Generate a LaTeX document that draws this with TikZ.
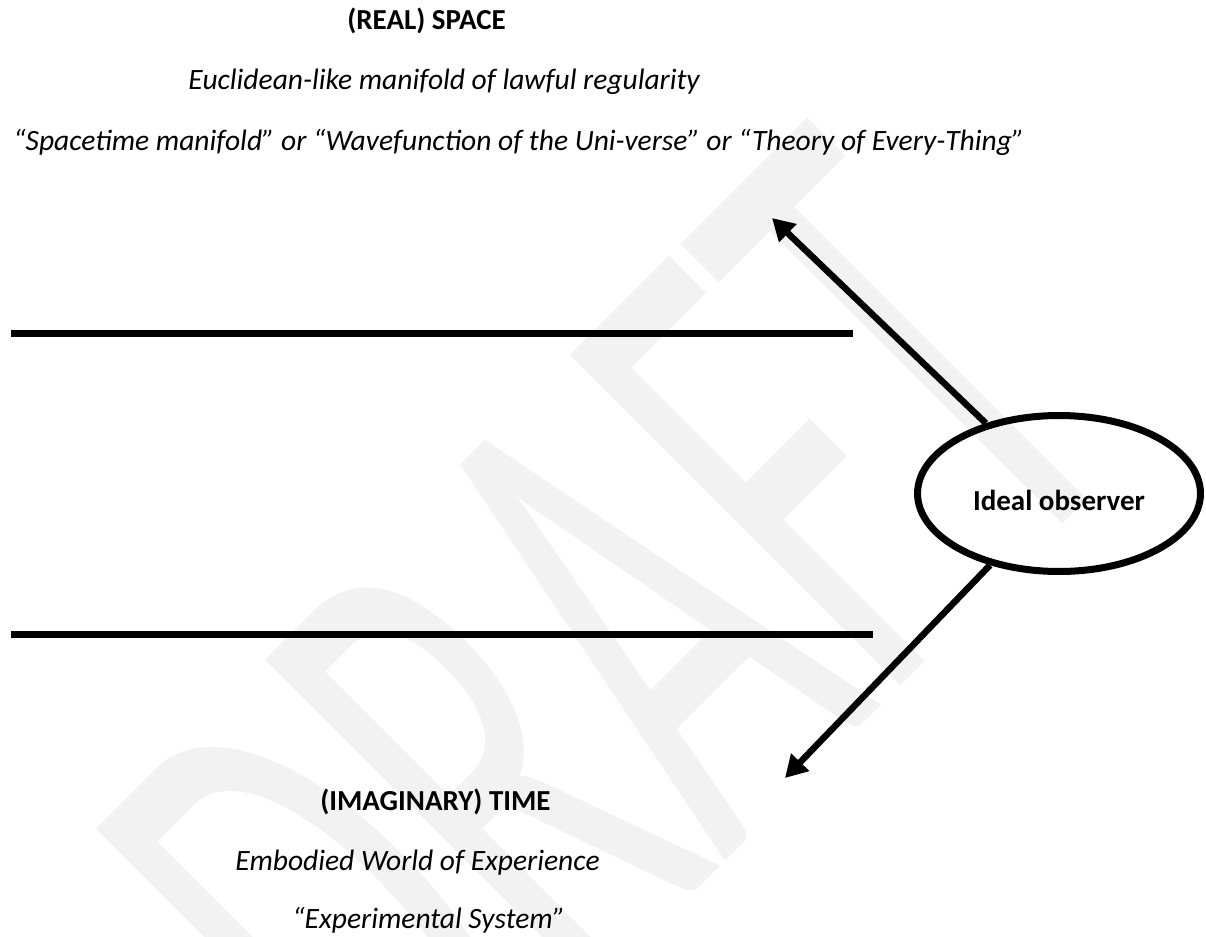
\documentclass[tikz,border=0pt]{standalone}
\usepackage{fontspec}
\setmainfont{Carlito}
\usetikzlibrary{arrows.meta,shapes.geometric}
\definecolor{wmgray}{HTML}{F2F2F2}
\tikzset{
    heading/.style={font=\fontsize{16.5}{20}\selectfont\bfseries, anchor=base west, inner sep=0pt},
    subline/.style={font=\fontsize{16.8}{20}\selectfont\itshape, anchor=base west, inner sep=0pt},
    bar/.style={line width=0.14cm},
    observer/.style={ellipse, draw, line width=0.14cm, inner sep=0pt,
        minimum width=5.66cm, minimum height=3.12cm, text height=0.66cm, text depth=0cm,
        font=\fontsize{16.5}{20}\selectfont\bfseries},
    ray/.style={line width=0.13cm, -{Triangle[length=0.44cm, width=0.48cm]}}
}
\begin{document}
\begin{tikzpicture}[x=0.02cm, y=-0.02cm]
        \useasboundingbox (0,0) rectangle (1206,936);
        
        % Znak wodny
        \node[text=wmgray, anchor=base, rotate=45, inner sep=0pt,
              font=\fontsize{415}{420}\selectfont] (draft) at (775,812) {\scalebox{0.53}[1]{DRAFT}};
        
        % Przestrzeń (góra)
        \node[heading] (realspace) at (347,30) {(REAL) SPACE};
        \node[subline] (euclid) at (188,90) {Euclidean-like manifold of lawful regularity};
        \node[subline] (theories) at (13,150) {“Spacetime manifold” or “Wavefunction of the Uni-verse” or “Theory of Every-Thing”};
        
        % Dwie poziome belki
        \draw[bar] (11,333) -- (853,333);
        \draw[bar] (11,634) -- (873,634);
        
        % Obserwator i strzałki
        \node[observer] (obs) at (1059,493.5) {Ideal observer};
        \coordinate (spacetip) at (772,218);
        \coordinate (timetip) at (785,778);
        \draw[ray] (obs) -- (spacetip);
        \draw[ray] (obs) -- (timetip);
        
        % Czas (dół)
        \node[heading] (imagtime) at (320,810) {(IMAGINARY) TIME};
        \node[subline] (embodied) at (235,870) {Embodied World of Experience};
        \node[subline] (expsys) at (292,928) {“Experimental System”};
    \end{tikzpicture}
\end{document}
